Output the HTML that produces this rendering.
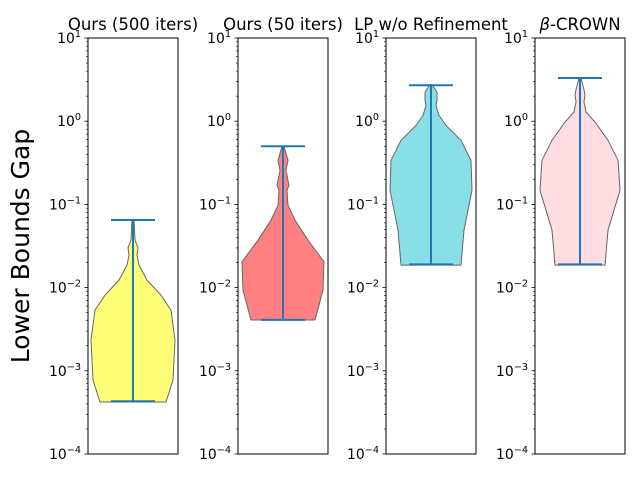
<!DOCTYPE html>
<html><head><meta charset="utf-8"><style>
html,body{margin:0;padding:0;background:#fff}
svg{display:block;font-family:"DejaVu Sans","Liberation Sans",sans-serif}
</style></head><body>
<svg id="chart" width="640" height="480" viewBox="0 0 640 480">
<text x="29" y="246" font-size="25" text-anchor="middle" transform="rotate(-90 29 246)">Lower Bounds Gap</text>
</svg>
<script>
const titles = ["Ours (500 iters)", "Ours (50 iters)", "LP w/o Refinement", "CROWN"];
const mins = [4.3e-4, 4.1e-3, 0.019, 0.019];
const maxs = [0.065, 0.5, 2.7, 3.3];
const fills = ["#ffff77", "#ff8080", "#88dfe5", "#ffdde2"];
const profLog = [
  [-3.375,-3.11,-2.63,-2.27,-2.09,-1.91,-1.73,-1.61,-1.52,-1.43,-1.18],
  [-2.39,-2.03,-1.69,-1.43,-1.19,-1.01,-0.83,-0.77,-0.59,-0.47,-0.30],
  [-1.73,-1.31,-0.83,-0.47,-0.23,-0.05,0.07,0.19,0.25,0.35,0.44],
  [-1.73,-1.31,-0.83,-0.47,-0.23,-0.01,0.11,0.23,0.32,0.38,0.52]
];
const profWidth = [
  [33,40,42,38,28,14,6,4,5,2,1],
  [32,40,41,25,12,5,4,6,3,5,1],
  [30,33,41,40,30,15,8,5,6,6,1],
  [25,28,40,38,28,15,6,4,5,4,1]
];
const tickExps = [-4,-3,-2,-1,0,1];

const NS = "http://www.w3.org/2000/svg";
const svg = document.getElementById("chart");
const lefts = [88, 238, 386, 535];
const axW = 90, axTop = 38, axBot = 454;
function yScale(v){ const l = Math.log10(v); return axBot - (l + 4) / 5 * (axBot - axTop); }
function yLog(l){ return axBot - (l + 4) / 5 * (axBot - axTop); }
function mk(tag, attrs, parent){ const e = document.createElementNS(NS, tag); for (const k in attrs) e.setAttribute(k, attrs[k]); (parent||svg).appendChild(e); return e; }

for (let p = 0; p < 4; p++) {
  const g = mk("g", {});
  
  
  const L = lefts[p], cx = L + axW/2;
  const lg = profLog[p], wd = profWidth[p];
  let pts = [];
  for (let i = 0; i < lg.length; i++) pts.push([cx + wd[i], yLog(lg[i])]);
  for (let i = lg.length-1; i >= 0; i--) pts.push([cx - wd[i], yLog(lg[i])]);
  const vio = mk("polygon", {points: pts.map(q=>q[0].toFixed(1)+","+q[1].toFixed(1)).join(" "), fill: fills[p], stroke: "#666", "stroke-width": 1, "stroke-linejoin": "round"}, g);
  
  
  const yMin = yScale(mins[p]), yMax = yScale(maxs[p]);
  const vl = mk("line", {x1: cx, x2: cx, y1: yMin, y2: yMax, stroke: "#1f77b4", "stroke-width": 2}, g);
  
  
  const c1 = mk("line", {x1: cx-22, x2: cx+22, y1: yMin, y2: yMin, stroke: "#1f77b4", "stroke-width": 2}, g);
  
  
  const c2 = mk("line", {x1: cx-22, x2: cx+22, y1: yMax, y2: yMax, stroke: "#1f77b4", "stroke-width": 2}, g);
  
  
  const fr = mk("rect", {x: L, y: axTop, width: axW, height: axBot-axTop, fill: "none", stroke: "#000", "stroke-width": 1}, g);
  
  
  for (const e of tickExps) {
    const y = yLog(e);
    mk("line", {x1: L-3.5, x2: L, y1: y, y2: y, stroke: "#000", "stroke-width": 0.8}, g);
    const t = mk("text", {x: L-7, y: y+5, "font-size": 13.9, "text-anchor": "end"}, g);
    
    
    t.appendChild(document.createTextNode('10'));
    const sup = mk("tspan", {dy: -6, "font-size": 9.7}, t);
    sup.textContent = (e < 0 ? '\u2212' + (-e) : String(e));
    if (e < 1) for (let m = 2; m < 10; m++) {
      const ym = yLog(e + Math.log10(m));
      mk("line", {x1: L-2, x2: L, y1: ym, y2: ym, stroke: "#000", "stroke-width": 0.6}, g);
    }
  }
  const tt = mk("text", {x: cx, y: 30, "font-size": 16.5, "text-anchor": "middle"}, g);
  
  
  if (p === 3) {
    const b = mk("tspan", {"font-style": "italic"}, tt);
    b.textContent = "β";
    tt.appendChild(document.createTextNode("-" + titles[p]));
  } else tt.textContent = titles[p];
}
</script>
</body></html>
